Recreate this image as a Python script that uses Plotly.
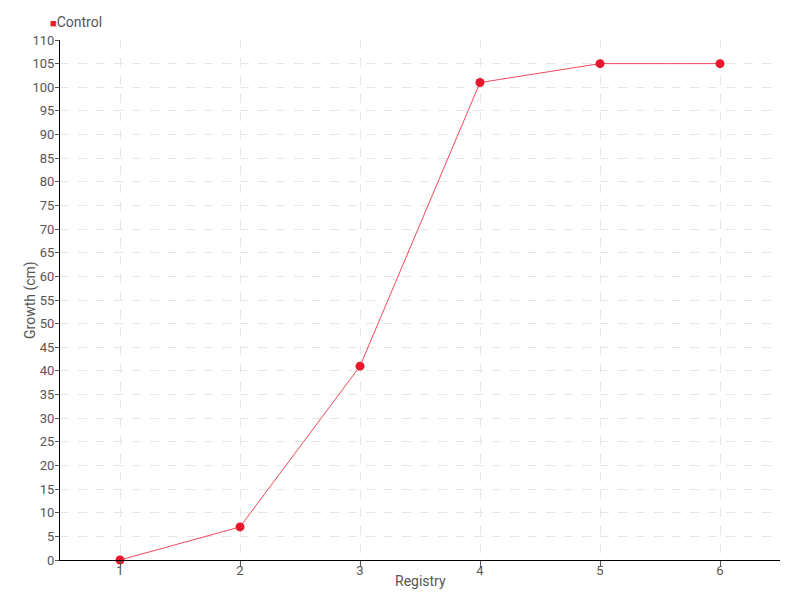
import plotly.graph_objects as go

registry = [1, 2, 3, 4, 5, 6]
growth = [0, 7, 41, 101, 105, 105]
y_ticks = list(range(0, 111, 5))

font = "Roboto, sans-serif"
red = "#e8192c"

fig = go.Figure()
fig.add_trace(go.Scatter(
    x=registry, y=growth, name="Control", mode="lines+markers",
    line=dict(color="rgba(240,40,60,0.85)", width=1),
    marker=dict(color=red, size=9, symbol="circle"),
    cliponaxis=False, showlegend=False,
))

# page body has an 8px margin, so the figure is made 8px smaller
fig.update_layout(
    width=792, height=592,
    margin=dict(l=52, r=20, t=32, b=40),
    paper_bgcolor="white", plot_bgcolor="white",
    font=dict(family=font, size=13, color="#555"),
    annotations=[
        dict(text="<span style='color:%s;font-size:11px'>■</span>Control" % red,
             xref="paper", yref="paper", x=-0.017, y=1.0, yshift=18,
             xanchor="left", yanchor="middle", showarrow=False,
             font=dict(size=14)),
        dict(text="Registry", xref="paper", yref="paper", x=0.5, y=0,
             yshift=-21, xanchor="center", yanchor="middle",
             showarrow=False, font=dict(size=14)),
        dict(text="Growth (cm)", xref="paper", yref="paper", x=0, y=0.5,
             xshift=-30, xanchor="center", yanchor="middle", textangle=-90,
             showarrow=False, font=dict(size=14)),
    ],
)
fig.update_xaxes(
    range=[0.5, 6.5], tickvals=registry, ticks="outside", ticklen=6,
    tickcolor="#555", showline=True, linecolor="black", linewidth=1,
    showgrid=True, gridcolor="#e6e6e6", griddash="dash", zeroline=False,
    automargin=False, ticklabelstandoff=-8,
)
fig.update_yaxes(
    range=[0, 110], tickvals=y_ticks, ticks="outside", ticklen=4,
    tickcolor="#555", showline=True, linecolor="black", linewidth=1,
    showgrid=True, gridcolor="#e6e6e6", griddash="dash", zeroline=False,
    automargin=False, ticklabelstandoff=-2,
)

fig.write_html("out.html")
